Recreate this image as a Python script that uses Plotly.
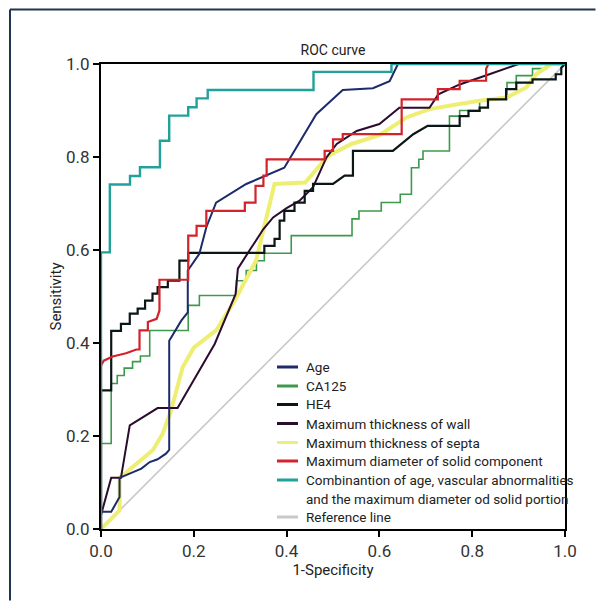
import plotly.graph_objects as go

# ---------------- data ----------------
age_x = [0, 0, 0.022, 0.04, 0.04, 0.087, 0.105, 0.122, 0.14, 0.147, 0.147, 0.173, 0.187, 0.187,
         0.212, 0.227, 0.248, 0.313, 0.395, 0.464, 0.521, 0.586, 0.622, 0.640, 1]
age_y = [0, 0.037, 0.037, 0.069, 0.11, 0.13, 0.144, 0.15, 0.162, 0.17, 0.405, 0.448, 0.466, 0.556,
         0.592, 0.649, 0.702, 0.742, 0.777, 0.892, 0.944, 0.948, 0.963, 1.0, 1]

ca125_x = [0, 0, 0.022, 0.022, 0.035, 0.035, 0.05, 0.05, 0.068, 0.068, 0.085, 0.085, 0.105, 0.105,
           0.188, 0.188, 0.212, 0.212, 0.292, 0.292, 0.313, 0.313, 0.335, 0.335, 0.352, 0.352,
           0.41, 0.41, 0.541, 0.541, 0.556, 0.556, 0.604, 0.604, 0.645, 0.645, 0.669, 0.669,
           0.685, 0.685, 0.694, 0.694, 0.751, 0.751, 0.773, 0.773, 0.816, 0.816, 0.834, 0.834,
           0.875, 0.875, 0.895, 0.895, 0.93, 0.93, 0.96, 0.96, 1]
ca125_y = [0, 0.184, 0.184, 0.313, 0.313, 0.33, 0.33, 0.346, 0.346, 0.36, 0.36, 0.372, 0.372, 0.427,
           0.427, 0.481, 0.481, 0.502, 0.502, 0.534, 0.534, 0.556, 0.556, 0.577, 0.577, 0.593,
           0.593, 0.631, 0.631, 0.667, 0.667, 0.684, 0.684, 0.702, 0.702, 0.72, 0.72, 0.777,
           0.777, 0.795, 0.795, 0.813, 0.813, 0.888, 0.888, 0.9, 0.9, 0.92, 0.92, 0.925,
           0.925, 0.96, 0.96, 0.975, 0.975, 0.99, 0.99, 1.0, 1]

he4_x = [0, 0, 0.022, 0.022, 0.043, 0.043, 0.062, 0.062, 0.079, 0.079, 0.095, 0.095, 0.111, 0.111,
         0.122, 0.122, 0.144, 0.144, 0.169, 0.169, 0.188, 0.188, 0.352, 0.352, 0.374, 0.374,
         0.385, 0.385, 0.395, 0.395, 0.417, 0.417, 0.439, 0.439, 0.457, 0.457, 0.5, 0.525,
         0.543, 0.543, 0.629, 0.673, 0.704, 0.773, 0.773, 0.792, 0.792, 0.816, 0.816, 0.834,
         0.834, 0.873, 0.873, 0.895, 0.895, 0.93, 0.93, 0.98, 0.98, 0.992, 0.992, 1]
he4_y = [0, 0.298, 0.298, 0.426, 0.426, 0.441, 0.441, 0.463, 0.463, 0.474, 0.474, 0.491, 0.491, 0.506,
         0.506, 0.52, 0.52, 0.534, 0.534, 0.577, 0.577, 0.594, 0.594, 0.609, 0.609, 0.624,
         0.624, 0.663, 0.663, 0.684, 0.684, 0.702, 0.702, 0.727, 0.727, 0.742, 0.742, 0.76,
         0.76, 0.813, 0.813, 0.849, 0.867, 0.867, 0.888, 0.888, 0.899, 0.899, 0.906, 0.906,
         0.924, 0.924, 0.946, 0.946, 0.96, 0.96, 0.967, 0.967, 0.978, 0.978, 0.992, 1]

wall_x = [0, 0, 0.022, 0.043, 0.062, 0.087, 0.105, 0.122, 0.165, 0.245, 0.29, 0.295, 0.322, 0.35,
          0.371, 0.4, 0.428, 0.457, 0.486, 0.508, 0.551, 0.6, 0.643, 0.708, 0.727, 0.773, 0.837,
          0.895, 0.9, 1]
wall_y = [0, 0.03, 0.11, 0.11, 0.223, 0.238, 0.248, 0.26, 0.26, 0.398, 0.505, 0.56, 0.602, 0.645,
          0.67, 0.69, 0.706, 0.735, 0.799, 0.828, 0.856, 0.871, 0.906, 0.906, 0.935, 0.956, 0.978,
          0.997, 1.0, 1]

septa_x = [0, 0.04, 0.04, 0.061, 0.087, 0.112, 0.133, 0.151, 0.176, 0.2, 0.248, 0.288, 0.334, 0.349,
           0.374, 0.44, 0.49, 0.54, 0.6, 0.658, 0.708, 0.766, 0.816, 0.874, 0.916, 0.938, 0.96,
           0.97, 1]
septa_y = [0, 0.04, 0.11, 0.127, 0.148, 0.17, 0.205, 0.255, 0.348, 0.39, 0.427, 0.491, 0.577, 0.64,
           0.742, 0.745, 0.803, 0.828, 0.847, 0.885, 0.903, 0.913, 0.921, 0.928, 0.949, 0.978, 0.992,
           1.0, 1]

solid_x = [0, 0, 0.006, 0.025, 0.054, 0.076, 0.083, 0.083, 0.101, 0.101, 0.12, 0.126, 0.126, 0.188,
           0.188, 0.206, 0.206, 0.227, 0.227, 0.31, 0.31, 0.333, 0.333, 0.35, 0.35, 0.357, 0.357,
           0.482, 0.482, 0.50, 0.50, 0.521, 0.521, 0.648, 0.648, 0.726, 0.726, 0.773, 0.773,
           0.83, 0.83, 0.835, 1]
solid_y = [0, 0.352, 0.362, 0.371, 0.378, 0.386, 0.386, 0.427, 0.427, 0.445, 0.452, 0.47, 0.536, 0.536,
           0.631, 0.631, 0.652, 0.652, 0.684, 0.684, 0.702, 0.702, 0.738, 0.738, 0.76, 0.76, 0.795,
           0.795, 0.813, 0.813, 0.838, 0.838, 0.849, 0.849, 0.924, 0.924, 0.946, 0.946, 0.964,
           0.964, 0.99, 1.0, 1]

combo_x = [0, 0, 0.019, 0.019, 0.0625, 0.0625, 0.084, 0.084, 0.127, 0.127, 0.147, 0.147, 0.188, 0.188,
           0.206, 0.206, 0.230, 0.230, 0.458, 0.458, 0.626, 0.626, 1]
combo_y = [0, 0.595, 0.595, 0.741, 0.741, 0.759, 0.759, 0.778, 0.778, 0.835, 0.835, 0.889, 0.889, 0.907,
           0.907, 0.926, 0.926, 0.944, 0.944, 0.983, 0.983, 1.0, 1]

ref_x = [0, 1]
ref_y = [0, 1]

series_names = [
    "Age",
    "CA125",
    "HE4",
    "Maximum thickness of wall",
    "Maximum thickness of septa",
    "Maximum diameter of solid component",
    "Combinantion of age, vascular abnormalities",
    "Reference line",
]
combo_second_line = "and the maximum diameter od solid portion"

x_ticks = [0.0, 0.2, 0.4, 0.6, 0.8, 1.0]
y_ticks = [0.0, 0.2, 0.4, 0.6, 0.8, 1.0]
tick_text = ["0.0", "0.2", "0.4", "0.6", "0.8", "1.0"]

# ---------------- style ----------------
FONT = "Roboto, Lato, Liberation Sans, sans-serif"
colors = ["#1d2b6b", "#3c9a4c", "#0b1616", "#2b0b2e", "#eeee72", "#d2232a", "#22a19c", "#c8c8c8"]
widths = [2, 1.6, 2.2, 2, 4, 2.2, 2.4, 1.6]

# the page body has an 8px margin, so the figure is drawn 8px in from the window corner
OFF = 8
W, H = 604 - 2 * OFF, 609 - 2 * OFF
# plot area in window pixels: x 101..565, y 64..529
L, R, T, B = 101 - OFF, W - (565 - OFF), 64 - OFF, H - (529 - OFF)
PW, PH = W - L - R, H - T - B


def px2x(wx):
    return (wx - OFF - L) / PW


def px2y(wy):
    return (H - B - (wy - OFF)) / PH


fig = go.Figure()
data = [(ref_x, ref_y, 7), (ca125_x, ca125_y, 1), (septa_x, septa_y, 4), (wall_x, wall_y, 3),
        (he4_x, he4_y, 2), (age_x, age_y, 0), (solid_x, solid_y, 5), (combo_x, combo_y, 6)]
for xs, ys, i in data:
    fig.add_trace(go.Scatter(x=xs, y=ys, mode="lines", name=series_names[i],
                             line=dict(color=colors[i], width=widths[i]),
                             showlegend=False, hoverinfo="name"))

# ---------------- manual legend ----------------
LEG_SIZE = 13.5
row_py = [367, 386, 404.5, 423.5, 442.5, 461, 480, 517]
shapes = []
annotations = []
for i, name in enumerate(series_names):
    py = row_py[i]
    shapes.append(dict(type="line", xref="paper", yref="paper",
                       x0=px2x(277), x1=px2x(298), y0=px2y(py), y1=px2y(py),
                       line=dict(color=colors[i], width=3)))
    annotations.append(dict(text=name, xref="paper", yref="paper", x=px2x(304), y=px2y(py),
                            xanchor="left", yanchor="middle", showarrow=False,
                            font=dict(family=FONT, size=LEG_SIZE, color="#222222")))
annotations.append(dict(text=combo_second_line, xref="paper", yref="paper", x=px2x(304), y=px2y(498.5),
                        xanchor="left", yanchor="middle", showarrow=False,
                        font=dict(family=FONT, size=LEG_SIZE, color="#222222")))

# outer frame (top and left edges), kept inside the figure
frame_col = "#1e3553"
right_edge = OFF + W - 0.5
bottom_edge = OFF + H - 0.5
shapes.append(dict(type="line", xref="paper", yref="paper", x0=px2x(10), x1=px2x(right_edge),
                   y0=px2y(9.5), y1=px2y(9.5), line=dict(color=frame_col, width=2)))
shapes.append(dict(type="line", xref="paper", yref="paper", x0=px2x(10), x1=px2x(10),
                   y0=px2y(9.5), y1=px2y(bottom_edge), line=dict(color=frame_col, width=2)))

axis_common = dict(range=[0, 1], showgrid=False, zeroline=False, showline=True, linewidth=2,
                   linecolor="black", mirror=True, ticks="outside", ticklen=6, tickwidth=2,
                   tickcolor="black", tickfont=dict(family=FONT, size=17, color="#333333"))

fig.update_layout(
    width=W, height=H,
    margin=dict(l=L, r=R, t=T, b=B, pad=0),
    paper_bgcolor="white", plot_bgcolor="white",
    title=dict(text="ROC curve", x=(333 - OFF) / W, xanchor="center",
               y=1 - (50 - OFF) / H, yanchor="middle",
               font=dict(family=FONT, size=14, color="#222222")),
    xaxis=dict(axis_common, tickvals=x_ticks, ticktext=tick_text,
               title=dict(text="1-Specificity", standoff=3,
                          font=dict(family=FONT, size=15, color="#222222"))),
    yaxis=dict(axis_common, tickvals=y_ticks, ticktext=tick_text,
               title=dict(text="Sensitivity", standoff=1,
                          font=dict(family=FONT, size=15, color="#222222"))),
    shapes=shapes,
    annotations=annotations,
    showlegend=False,
)

fig.write_html("out.html")
